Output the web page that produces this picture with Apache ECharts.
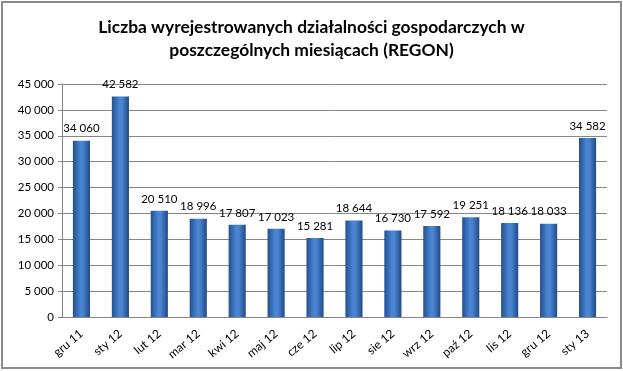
<!DOCTYPE html>
<html><head><meta charset="utf-8">
<script src="https://cdn.jsdelivr.net/npm/echarts@6/dist/echarts.min.js"></script>
<style>html,body{margin:0;padding:0;background:#fff}#c{width:623px;height:371px}</style>
</head><body><div id="c"></div>
<script>
const categories = ["gru 11","sty 12","lut 12","mar 12","kwi 12","maj 12","cze 12","lip 12","sie 12","wrz 12","paź 12","lis 12","gru 12","sty 13"];
const values = [34060,42582,20510,18996,17807,17023,15281,18644,16730,17592,19251,18136,18033,34582];
const titleLines = ["Liczba wyrejestrowanych działalności gospodarczych w","poszczególnych miesiącach (REGON)"];
const fmt = v => String(v).replace(/\B(?=(\d{3})+(?!\d))/g, ' ');
const chart = echarts.init(document.getElementById('c'), null, {renderer:'canvas'});
chart.setOption({
  animation:false,
  graphic:[{type:'rect',shape:{x:2,y:2,width:619,height:366},style:{fill:'none',stroke:'#8c8c8c',lineWidth:2}}],
  title:{text:titleLines.join('\n'),left:'center',top:11,textStyle:{fontFamily:'Lato',fontWeight:'bold',fontSize:17.4,lineHeight:23,color:'#000'}},
  grid:{left:62,right:16,top:84,bottom:54},
  xAxis:{type:'category',data:categories,
    axisLine:{lineStyle:{color:'#868686'}},axisTick:{show:false},
    axisLabel:{rotate:40,interval:0,fontFamily:'Lato',fontSize:12,color:'#000',margin:15}},
  yAxis:{type:'value',min:0,max:45000,interval:5000,
    axisLine:{show:true,lineStyle:{color:'#868686'}},axisTick:{show:true,length:4,lineStyle:{color:'#868686'}},
    splitLine:{lineStyle:{color:'#868686'}},
    axisLabel:{formatter:fmt,fontFamily:'Lato',fontSize:11.5,color:'#000',margin:8}},
  series:[{type:'bar',data:values,barWidth:'44%',
    itemStyle:{color:new echarts.graphic.LinearGradient(0,0,1,0,[
      {offset:0,color:'#23508f'},{offset:0.45,color:'#4a86d4'},{offset:0.6,color:'#4a82cf'},{offset:1,color:'#1f4a86'}])},
    label:{show:true,position:'top',formatter:p=>fmt(p.value),fontFamily:'Lato',fontSize:11.5,color:'#000',distance:6}}]
});
</script></body></html>
